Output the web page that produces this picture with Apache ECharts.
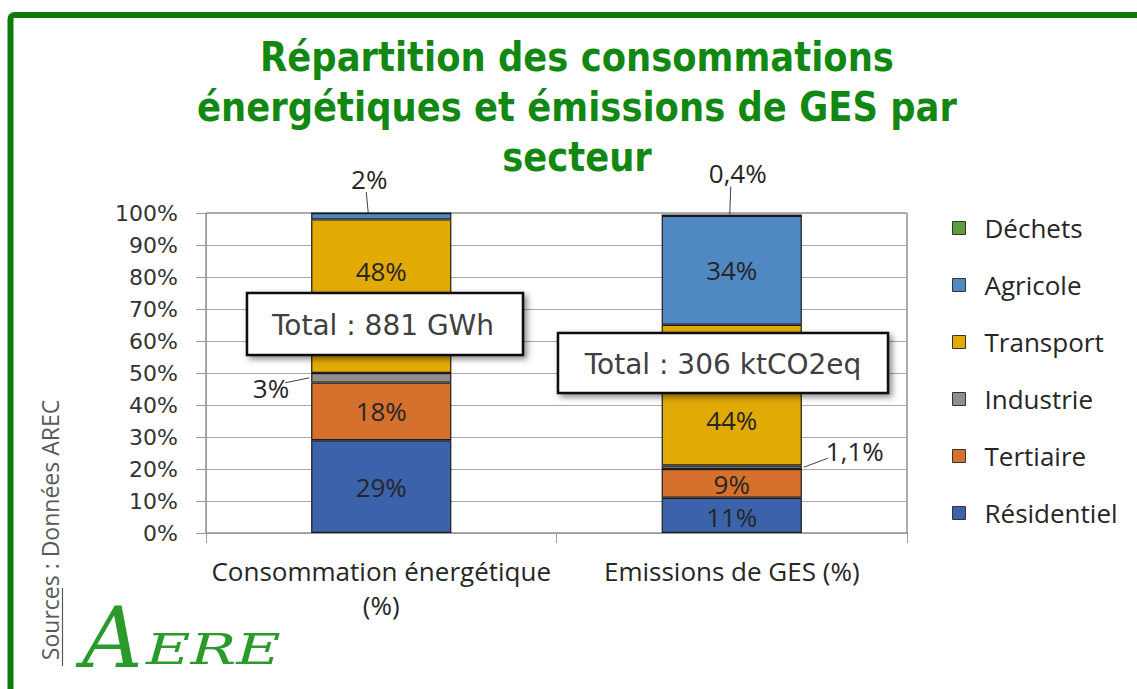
<!DOCTYPE html>
<html>
<head>
<meta charset="utf-8">
<script src="https://cdn.jsdelivr.net/npm/echarts@6/dist/echarts.min.js"></script>
<style>
  html, body { margin: 0; padding: 0; background: #ffffff; }
  #chart { width: 1137px; height: 689px; }
</style>
</head>
<body>
<div id="chart"></div>
<script>
// ---- data ----
const categories = ['Consommation énergétique\n(%)', 'Emissions de GES (%)'];
const sectors = ['Résidentiel', 'Tertiaire', 'Industrie', 'Transport', 'Agricole', 'Déchets'];
const residentiel = [29, 11];
const tertiaire = [18, 9];
const industrie = [3, 1.1];
const transport = [48, 44];
const agricole = [2, 34];
const dechets = [0, 0.4];
const yTicks = [0, 10, 20, 30, 40, 50, 60, 70, 80, 90, 100];
const totals = ['Total : 881 GWh', 'Total : 306 ktCO2eq'];
const titleText = 'Répartition des consommations\nénergétiques et émissions de GES par\nsecteur';
const sourceText = 'Sources : Données AREC';

const colors = {
  'Résidentiel': '#3c62ab',
  'Tertiaire': '#d5712d',
  'Industrie': '#8f8f8f',
  'Transport': '#e2aa05',
  'Agricole': '#4f88c2',
  'Déchets': '#5c9c3c'
};

const valuesBySector = {
  'Résidentiel': residentiel,
  'Tertiaire': tertiaire,
  'Industrie': industrie,
  'Transport': transport,
  'Agricole': agricole,
  'Déchets': dechets
};

// label placement tweaks (styling only)
const labelTweaks = {
  'Transport': [{ offset: [0, -25] }, { offset: [0, 25] }],
  'Tertiaire': [null, { offset: [0, 1] }],
  'Résidentiel': [null, { offset: [0, 2] }],
  'Industrie': [
    { position: 'left', distance: 22, offset: [0, 10] },
    { position: 'right', distance: 24, offset: [0, -16] }
  ],
  'Agricole': [{ position: 'top', distance: 22, offset: [-12, 0] }, null],
  'Déchets': [null, { position: 'top', distance: 30, offset: [6, 0] }]
};

function fmt(v) {
  if (!v) return '';
  return String(v).replace('.', ',') + '%';
}

const LABEL_FONT = '"Open Sans", sans-serif';

const series = sectors.map(function (name) {
  const vals = valuesBySector[name];
  const tweaks = labelTweaks[name] || [];
  return {
    name: name,
    type: 'bar',
    stack: 'total',
    barWidth: '40%',
    itemStyle: { color: colors[name], borderColor: '#1c1c1c', borderWidth: 1.2 },
    label: {
      show: true,
      position: 'inside',
      fontFamily: LABEL_FONT,
      fontSize: 26,
      lineHeight: 24,
      color: '#262626',
      formatter: function (p) { return fmt(p.value); }
    },
    data: vals.map(function (v, i) {
      const t = tweaks[i];
      if (!t) return v;
      const item = { value: v, label: {} };
      if (t.position) item.label.position = t.position;
      if (t.distance) item.label.distance = t.distance;
      if (t.offset) item.label.offset = t.offset;
      return item;
    })
  };
});

const chart = echarts.init(document.getElementById('chart'), null, { renderer: 'svg' });

const option = {
  backgroundColor: '#ffffff',
  animation: false,
  grid: {
    left: 206, right: 230, top: 213, bottom: 156,
    show: true, borderColor: '#5a5a5a', borderWidth: 1, backgroundColor: 'transparent'
  },
  legend: {
    orient: 'vertical',
    left: 947,
    top: 210,
    itemWidth: 13,
    itemHeight: 13,
    itemGap: 31,
    icon: 'rect',
    itemStyle: { borderColor: '#333', borderWidth: 1 },
    textStyle: { fontFamily: LABEL_FONT, fontSize: 26, color: '#262626', lineHeight: 26, padding: [0, 0, 0, 14] },
    data: ['Déchets', 'Agricole', 'Transport', 'Industrie', 'Tertiaire', 'Résidentiel']
  },
  xAxis: {
    type: 'category',
    data: categories,
    axisLine: { show: true, lineStyle: { color: '#9a9a9a', width: 1 } },
    axisTick: { show: true, length: 10, lineStyle: { color: '#9a9a9a' } },
    axisLabel: {
      interval: 0,
      fontFamily: LABEL_FONT, fontSize: 26, color: '#262626', margin: 21, lineHeight: 34
    }
  },
  yAxis: {
    type: 'value',
    min: yTicks[0],
    max: yTicks[yTicks.length - 1],
    interval: yTicks[1] - yTicks[0],
    axisLine: { show: true, lineStyle: { color: '#9a9a9a', width: 1 } },
    axisTick: { show: true, length: 10, lineStyle: { color: '#9a9a9a' } },
    splitLine: { show: true, lineStyle: { color: '#a8a8a8', width: 1 } },
    axisLabel: {
      fontFamily: '"DejaVu Sans", sans-serif', fontSize: 22, color: '#333333', margin: 28,
      formatter: '{value}%'
    }
  },
  series: series
};

chart.setOption(option);

// ---- leader lines derived from the data through the chart's scales ----
function stackTop(idx, upToSector) {
  let s = 0;
  for (let k = 0; k <= sectors.indexOf(upToSector); k++) s += valuesBySector[sectors[k]][idx];
  return s;
}
function px(idx, val) {
  return chart.convertToPixel({ xAxisIndex: 0, yAxisIndex: 0 }, [idx, val]);
}
const leaderStyle = { stroke: '#404040', lineWidth: 1 };
const leaders = [];
// 2% (Agricole, bar 0) at top
(function () {
  const p = px(0, stackTop(0, 'Agricole'));
  leaders.push({ x1: p[0] - 15, y1: p[1] - 21, x2: p[0] - 13, y2: p[1] });
})();
// 0,4% (Déchets, bar 1) at top
(function () {
  const p = px(1, stackTop(1, 'Déchets'));
  leaders.push({ x1: p[0] - 1, y1: p[1] - 28, x2: p[0] - 2, y2: p[1] });
})();
// 3% (Industrie, bar 0), left side
(function () {
  const mid = stackTop(0, 'Tertiaire') + industrie[0] / 2;
  const p = px(0, mid);
  leaders.push({ x1: p[0] - 96, y1: p[1] + 5, x2: p[0] - 72, y2: p[1] });
})();
// 1,1% (Industrie, bar 1), right side
(function () {
  const mid = stackTop(1, 'Tertiaire') + industrie[1] / 2;
  const p = px(1, mid);
  leaders.push({ x1: p[0] + 96, y1: p[1] - 9, x2: p[0] + 72, y2: p[1] });
})();

const graphics = [
  // green frame
  {
    type: 'rect', z: 100,
    shape: { x: 10.5, y: 15, width: 1300, height: 900, r: 4 },
    style: { fill: 'none', stroke: '#0b7b0b', lineWidth: 6 }
  },
  // title
  {
    type: 'text', x: 577, y: 107, scaleX: 0.885, z: 100,
    style: {
      text: titleText,
      font: 'bold 40px "DejaVu Sans", sans-serif',
      fill: '#128812',
      textAlign: 'center',
      textVerticalAlign: 'middle',
      lineHeight: 50
    }
  },
  // total boxes
  {
    type: 'rect', z: 100,
    shape: { x: 247, y: 293, width: 276, height: 62 },
    style: {
      fill: '#ffffff', stroke: '#111111', lineWidth: 2.5,
      shadowBlur: 6, shadowOffsetX: 3, shadowOffsetY: 3, shadowColor: 'rgba(0,0,0,0.45)'
    }
  },
  {
    type: 'text', x: 383, y: 325, z: 101,
    style: {
      text: totals[0], font: '28px "DejaVu Sans", sans-serif', fill: '#404040',
      textAlign: 'center', textVerticalAlign: 'middle'
    }
  },
  {
    type: 'rect', z: 100,
    shape: { x: 558, y: 333, width: 330, height: 60 },
    style: {
      fill: '#ffffff', stroke: '#111111', lineWidth: 2.5,
      shadowBlur: 6, shadowOffsetX: 3, shadowOffsetY: 3, shadowColor: 'rgba(0,0,0,0.45)'
    }
  },
  {
    type: 'text', x: 723, y: 364, z: 101,
    style: {
      text: totals[1], font: '28px "DejaVu Sans", sans-serif', fill: '#404040',
      textAlign: 'center', textVerticalAlign: 'middle'
    }
  },
  // sources (rotated)
  {
    type: 'text', x: 50, y: 530, rotation: Math.PI / 2, z: 100,
    style: {
      text: sourceText, font: '23px "Open Sans", sans-serif', fill: '#595959',
      textAlign: 'center', textVerticalAlign: 'middle'
    }
  },
  {
    type: 'line', z: 100,
    shape: { x1: 62.5, y1: 588, x2: 62.5, y2: 666 },
    style: { stroke: '#595959', lineWidth: 1.2 }
  },
  // AERE logo
  {
    type: 'text', x: 82, y: 680, z: 100,
    style: {
      text: 'A', font: 'italic 84px "DejaVu Serif", serif', fill: '#2a9a2a',
      textAlign: 'left', textVerticalAlign: 'bottom'
    }
  },
  {
    type: 'text', x: 146, y: 670, scaleX: 1.45, z: 100,
    style: {
      text: 'ERE', font: 'italic 42px "DejaVu Serif", serif', fill: '#2a9a2a',
      textAlign: 'left', textVerticalAlign: 'bottom'
    }
  }
].concat(leaders.map(function (s) {
  return { type: 'line', z: 50, shape: s, style: leaderStyle };
}));

chart.setOption({ graphic: graphics });
</script>
</body>
</html>
